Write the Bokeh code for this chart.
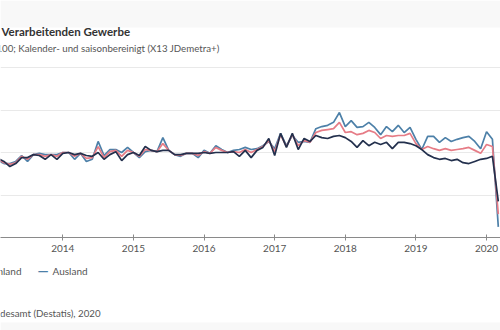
from bokeh.plotting import figure
from bokeh.models import Range1d, FixedTicker, Label, BoxAnnotation
from bokeh.layouts import column
from bokeh.embed import file_html
from bokeh.resources import INLINE

# Monthly values, volume index 2015 = 100, starting January 2013, ending March 2020
start_year = 2013
insgesamt = [98.4, 98.4, 97.6, 97.2, 97.6, 99.1, 98.4, 99.5, 99.5, 99.1, 99.5, 99.1,
             100.0, 100.0, 99.1, 99.8, 98.6, 98.8, 101.4, 98.8, 100.2, 100.5, 99.1, 100.5,
             100.0, 99.1, 100.7, 100.5, 100.2, 102.1, 100.5, 99.5, 99.3, 99.8, 99.8, 99.3,
             100.2, 99.8, 101.2, 100.5, 100.0, 100.2, 100.0, 100.7, 100.0, 100.7, 101.4, 102.8,
             100.2, 104.2, 101.4, 104.2, 101.6, 102.8, 102.4, 104.7, 105.2, 105.4, 105.6, 107.1,
             104.7, 104.9, 104.2, 104.5, 105.2, 104.7, 103.3, 104.0, 103.8, 104.0, 104.0, 104.5,
             102.1, 100.7, 101.4, 100.9, 100.5, 100.9, 100.5, 100.7, 100.9, 101.2, 100.5, 99.8,
             101.9, 101.4, 85.5]
inland = [98.6, 98.6, 97.9, 96.7, 97.4, 98.8, 98.8, 99.5, 99.3, 98.4, 99.5, 98.4,
          99.8, 100.0, 99.5, 99.8, 99.3, 99.1, 100.0, 98.4, 99.5, 100.2, 98.1, 99.5,
          100.0, 99.3, 101.4, 100.5, 100.2, 100.5, 100.5, 99.5, 99.5, 99.8, 99.8, 99.8,
          100.0, 99.8, 100.0, 100.0, 100.0, 100.2, 99.1, 100.5, 98.8, 100.5, 101.2, 103.3,
          99.3, 104.5, 101.2, 104.5, 100.7, 103.3, 102.6, 104.0, 103.5, 103.3, 103.8, 104.0,
          103.5, 102.6, 101.2, 102.8, 101.6, 102.4, 101.9, 102.4, 100.9, 102.4, 102.4, 102.1,
          101.6, 100.7, 99.5, 98.8, 98.4, 98.6, 98.1, 98.4, 97.6, 97.4, 97.9, 98.4,
          98.6, 99.1, 88.5]
ausland = [98.1, 98.1, 97.4, 97.4, 97.9, 99.3, 97.9, 99.5, 99.8, 99.5, 99.5, 99.5,
           100.0, 100.0, 98.4, 99.8, 97.9, 98.4, 102.6, 99.3, 100.7, 100.7, 100.0, 101.2,
           100.0, 98.8, 100.2, 100.5, 100.2, 103.5, 100.5, 99.5, 99.1, 99.8, 99.8, 98.8,
           100.5, 99.8, 101.6, 100.7, 100.0, 100.5, 100.7, 101.2, 100.7, 100.9, 101.6, 102.6,
           100.9, 104.5, 101.6, 104.0, 102.4, 102.6, 102.4, 105.6, 106.1, 106.4, 107.1, 109.4,
           106.1, 107.5, 105.9, 106.1, 107.1, 105.9, 104.2, 106.1, 104.9, 106.4, 104.7, 105.9,
           103.1, 100.7, 103.8, 103.8, 102.4, 103.5, 102.6, 103.1, 103.5, 103.8, 102.6, 100.9,
           104.9, 103.1, 82.5]
series_names = ["Insgesamt", "Inland", "Ausland"]
year_ticks = [2013, 2014, 2015, 2016, 2017, 2018, 2019, 2020]
y_grid = [80, 90, 100, 110, 120]

title = "Auftragseingang im Verarbeitenden Gewerbe"
subtitle = "Volumenindex 2015 = 100; Kalender- und saisonbereinigt (X13 JDemetra+)"
source = "Quelle: Statistisches Bundesamt (Destatis), 2020"

col_total = "#e67c86"
col_inland = "#23304d"
col_ausland = "#4d80a8"
FONT = "Lato"
TEXT_GREY = "#555555"

x = [start_year + i / 12 for i in range(len(insgesamt))]

W = 500
FRAME_BOTTOM = 237      # pixel row of the value 80 / x-axis line
PX_PER_UNIT = 4.25
MAIN_H = 260
y_top_value = 80 + FRAME_BOTTOM / PX_PER_UNIT

# ---- main chart (frame reaches the top of the picture so that titles sit inside it)
p = figure(width=W, height=MAIN_H, output_backend="svg", toolbar_location=None,
           x_range=Range1d(2013.1175, 2020.1977), y_range=Range1d(80, y_top_value),
           min_border_left=0, min_border_right=0, min_border_top=0,
           min_border_bottom=MAIN_H - FRAME_BOTTOM)
p.background_fill_color = "white"
p.border_fill_color = "white"
p.outline_line_color = None

p.yaxis.visible = False
p.xgrid.visible = False
p.ygrid.ticker = FixedTicker(ticks=y_grid)
p.ygrid.grid_line_color = "#e9e9e9"
p.ygrid.grid_line_width = 1

p.xaxis.ticker = FixedTicker(ticks=year_ticks)
p.xaxis.axis_line_color = "#8a8a8a"
p.xaxis.major_tick_line_color = "#8a8a8a"
p.xaxis.major_tick_in = 3
p.xaxis.major_tick_out = 3
p.xaxis.minor_tick_line_color = None
p.xaxis.major_label_text_font = FONT
p.xaxis.major_label_text_font_size = "10px"
p.xaxis.major_label_text_color = TEXT_GREY
p.xaxis.major_label_standoff = 4

# faint header band
p.add_layout(BoxAnnotation(bottom=80 + (FRAME_BOTTOM - 27) / PX_PER_UNIT, fill_color="#f8f8f8",
                           fill_alpha=1, line_color=None, level="underlay"))

p.line(x, ausland, line_color=col_ausland, line_width=1.7)
p.line(x, insgesamt, line_color=col_total, line_width=1.7)
p.line(x, inland, line_color=col_inland, line_width=1.7)


def lab(fig, base, xp, ytop, text, align="left", size="10px", color=TEXT_GREY, style="normal"):
    # screen units are measured from the frame's bottom-left corner
    fig.add_layout(Label(x=xp, y=base - ytop, x_units="screen", y_units="screen",
                         text=text, text_align=align, text_baseline="middle", text_font=FONT,
                         text_font_size=size, text_color=color, text_font_style=style))


lab(p, FRAME_BOTTOM, 130, 31, title, align="right", size="11.5px", color="#333333", style="bold")
lab(p, FRAME_BOTTOM, 219, 47, subtitle, align="right", size="9.7px")

# ---- footer (legend + source)
q = figure(width=W, height=330 - MAIN_H, output_backend="svg", toolbar_location=None,
           x_range=Range1d(0, W), y_range=Range1d(0, 330 - MAIN_H),
           x_axis_location=None, y_axis_location=None,
           min_border_left=0, min_border_right=0, min_border_top=0, min_border_bottom=0)
q.grid.visible = False
q.outline_line_color = None
q.background_fill_color = "white"
q.border_fill_color = "white"
q.add_layout(BoxAnnotation(top=330 - 322, fill_color="#f8f8f8", fill_alpha=1,
                           line_color=None, level="underlay"))

lab(q, 330, -62, 270, "\u2014", align="right", size="14px", color=col_total, style="bold")
lab(q, 330, -50, 270, series_names[0], align="left", size="10px")
lab(q, 330, -14, 270, "\u2014", align="right", size="14px", color=col_inland, style="bold")
lab(q, 330, 21, 270, series_names[1], align="right", size="10px")
lab(q, 330, 37, 270, "\u2014", align="left", size="14px", color=col_ausland, style="bold")
lab(q, 330, 52, 270, series_names[2], align="left", size="10px")
lab(q, 330, 100, 312, source, align="right", size="9.7px")

layout = column(p, q, spacing=0)
open("out.html", "w").write(file_html(layout, INLINE))
